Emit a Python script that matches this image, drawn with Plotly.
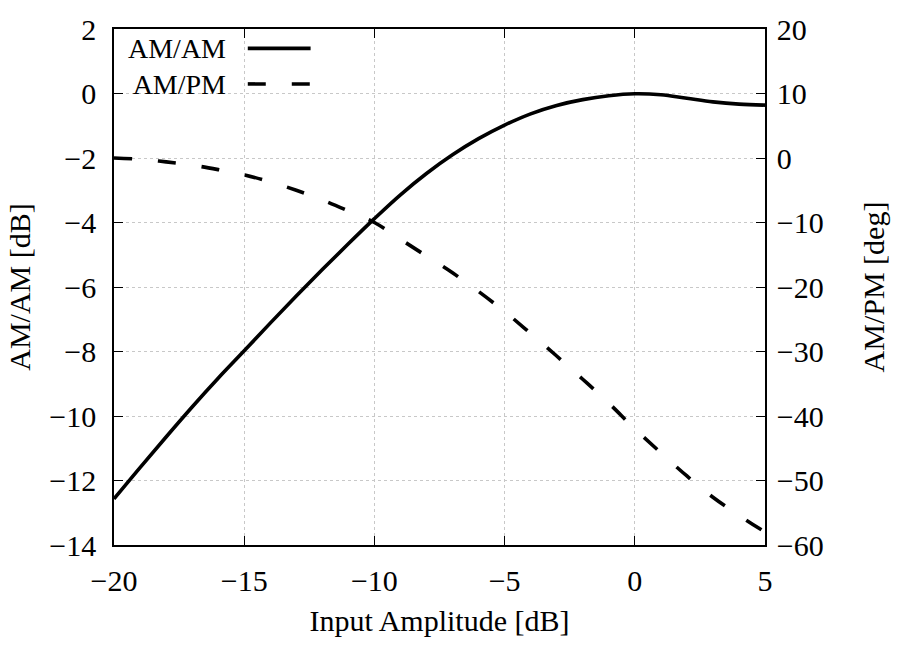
import plotly.graph_objects as go

# Input drive level [dB]
input_db = [-20, -19, -18, -17, -16, -15, -14, -13, -12, -11, -10, -9, -8,
            -7, -6, -5, -4, -3, -2, -1, 0, 1, 2, 3, 4, 5]

# AM/AM compression curve [dB]
am_am = [-12.57, -11.6, -10.65, -9.72, -8.83, -7.98, -7.12, -6.28, -5.46, -4.66,
         -3.88, -3.14, -2.48, -1.9, -1.4, -0.98, -0.63, -0.37, -0.19, -0.07,
         -0.01, -0.04, -0.15, -0.26, -0.33, -0.36]

# AM/PM phase rotation [deg]
am_pm = [0.0, -0.2, -0.6, -1.1, -1.8, -2.6, -3.7, -5.0, -6.5, -8.2,
         -10.0, -12.6, -15.2, -17.8, -20.7, -23.8, -27.2, -30.7, -34.3, -38.0,
         -42.0, -45.7, -49.3, -52.6, -55.4, -58.0]

series_names = ["AM/AM", "AM/PM"]

x_ticks = [-20, -15, -10, -5, 0, 5]
y1_ticks = [-14, -12, -10, -8, -6, -4, -2, 0, 2]
y2_ticks = [-60, -50, -40, -30, -20, -10, 0, 10, 20]

FONT = "Liberation Serif"
TICK_SIZE = 30
KEY_SIZE = 28
LINE_W = 3.6
DASH = "18px,26px"

fig = go.Figure()
fig.add_trace(go.Scatter(x=input_db, y=am_am, mode="lines", name=series_names[0],
                         line=dict(color="black", width=LINE_W, shape="spline", smoothing=1.0),
                         yaxis="y"))
fig.add_trace(go.Scatter(x=input_db, y=am_pm, mode="lines", name=series_names[1],
                         line=dict(color="black", width=LINE_W, dash=DASH, shape="spline", smoothing=1.0),
                         yaxis="y2"))

grid = dict(showgrid=True, gridcolor="#c8c8c8", gridwidth=1, griddash="dot")
axis_common = dict(showline=True, linecolor="black", linewidth=1.5,
                   ticks="inside", ticklen=9, tickwidth=1.2, tickcolor="black",
                   zeroline=False,
                   tickfont=dict(family=FONT, size=TICK_SIZE, color="black"))

fig.update_layout(
    width=897, height=646,
    margin=dict(l=114, r=131, t=17, b=101),
    paper_bgcolor="white", plot_bgcolor="white",
    showlegend=False,
    font=dict(family=FONT, color="black"),
    xaxis=dict(range=[-20, 5], tickvals=x_ticks, mirror="ticks",
               title=dict(text="Input Amplitude [dB]", font=dict(family=FONT, size=TICK_SIZE), standoff=14),
               ticklabelstandoff=8,
               **grid, **axis_common),
    yaxis=dict(range=[-14, 2], tickvals=y1_ticks,
               title=dict(text="AM/AM [dB]", font=dict(family=FONT, size=TICK_SIZE), standoff=10),
               ticklabelstandoff=10,
               **grid, **axis_common),
    yaxis2=dict(range=[-60, 20], tickvals=y2_ticks, overlaying="y", side="right",
                showgrid=False,
                title=dict(text="AM/PM [deg]", font=dict(family=FONT, size=TICK_SIZE), standoff=40),
                ticklabelstandoff=4,
                **axis_common),
)

# Key: both labels in one right-aligned block, each followed by its line sample
line_gap = KEY_SIZE * 1.3 / 528.0          # plotly line spacing, in paper units
key_center = 0.928
fig.add_annotation(x=0.175, y=key_center, xref="paper", yref="paper",
                   text="<br>".join(series_names), showarrow=False,
                   xanchor="right", yanchor="middle", align="right",
                   font=dict(family=FONT, size=KEY_SIZE, color="black"))
for i, dash in enumerate(["solid", DASH]):
    ypos = key_center + line_gap / 2 - i * line_gap
    fig.add_shape(type="line", xref="paper", yref="paper",
                  x0=0.2055, x1=0.302, y0=ypos, y1=ypos,
                  line=dict(color="black", width=LINE_W, dash=dash))

fig.write_html("out.html")
